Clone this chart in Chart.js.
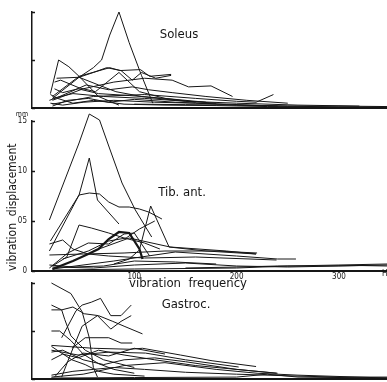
<!DOCTYPE html>
<html>
<head>
<meta charset="utf-8">
<script src="https://cdn.jsdelivr.net/npm/chart.js@4/dist/chart.umd.min.js"></script>
<style>
  body { margin: 0; background: #fff; }
  #wrap { position: relative; width: 387px; height: 382px; overflow: hidden; background: #fff; }
  .panel { position: absolute; left: 0; width: 387px; }
</style>
</head>
<body>
<div id="wrap">
  <div class="panel" style="top:0;height:112px"><canvas id="soleus"></canvas></div>
  <div class="panel" style="top:110px;height:182px"><canvas id="tib"></canvas></div>
  <div class="panel" style="top:270px;height:112px"><canvas id="gastroc"></canvas></div>
</div>
<script>
// vibration frequency (Hz) of each curve, one list per curve
const soleusFreq = [
  [20, 46, 60, 68, 76, 85, 95, 107, 118],
  [18, 26, 36, 46, 65, 85],
  [46, 60, 73, 87, 98, 107, 121, 136],
  [20, 50, 80, 110, 137, 153, 175, 196],
  [20, 60, 110, 160, 200, 219, 236],
  [20, 46, 76, 86, 106, 115, 136],
  [22, 28, 46, 62, 85, 105, 130, 160],
  [24, 46, 65, 82, 107, 140, 180],
  [17, 25, 53, 75, 98, 114, 137, 170, 210, 250],
  [18, 30, 50, 80, 120, 160, 200, 250, 300, 347],
  [18, 25, 40, 60, 90, 130, 180, 230, 280, 347],
  [20, 35, 55, 75, 100, 140, 190, 240],
  [20, 40, 70, 110, 150, 200, 260, 320],
  [22, 30, 45, 65, 95, 130, 170],
  [100, 150, 200, 250, 300, 347]
];
// vibration displacement (mm)
const soleusDisp = [
  [0.10, 0.32, 0.42, 0.50, 0.76, 1.00, 0.68, 0.34, 0.05],
  [0.15, 0.50, 0.43, 0.33, 0.12, 0.03],
  [0.32, 0.37, 0.42, 0.39, 0.29, 0.37, 0.31, 0.34],
  [0.08, 0.20, 0.27, 0.31, 0.29, 0.22, 0.23, 0.12],
  [0.04, 0.12, 0.14, 0.10, 0.07, 0.06, 0.14],
  [0.12, 0.33, 0.42, 0.39, 0.40, 0.33, 0.35],
  [0.27, 0.29, 0.21, 0.17, 0.37, 0.17, 0.10, 0.06],
  [0.31, 0.32, 0.24, 0.17, 0.12, 0.08, 0.05],
  [0.08, 0.11, 0.24, 0.19, 0.22, 0.19, 0.16, 0.12, 0.08, 0.05],
  [0.05, 0.03, 0.06, 0.08, 0.06, 0.05, 0.03, 0.02, 0.01, 0.01],
  [0.14, 0.10, 0.05, 0.08, 0.04, 0.03, 0.025, 0.015, 0.01, 0.005],
  [0.02, 0.08, 0.10, 0.06, 0.09, 0.06, 0.04, 0.02],
  [0.10, 0.15, 0.12, 0.10, 0.07, 0.05, 0.03, 0.02],
  [0.20, 0.16, 0.20, 0.15, 0.13, 0.10, 0.06],
  [0.04, 0.035, 0.03, 0.02, 0.02, 0.015]
];

const tibFreq = [
  [17, 46, 56, 66, 75, 88, 101, 117],
  [17, 46, 56, 64, 85],
  [18, 46, 56, 66, 75, 85, 95, 105, 114, 127],
  [80, 95, 105, 116, 134, 170, 219],
  [20, 34, 46, 58, 75, 90, 110, 125],
  [20, 40, 55, 65, 75, 85, 95, 105, 108],
  [30, 55, 75, 92, 105, 120],
  [60, 95, 135, 190, 219],
  [20, 80, 140, 200, 240, 258],
  [17, 30, 40, 55, 75, 110, 160, 239],
  [17, 50, 90, 130, 180, 220],
  [20, 100, 200, 250, 300, 347],
  [20, 60, 100, 150, 200, 250, 300, 347],
  [17, 40, 70, 100, 140, 180],
  [17, 35, 55, 75, 90, 100, 115],
  [150, 200, 240, 280, 320, 347]
];
const tibDisp = [
  [0.51, 1.28, 1.57, 1.51, 1.25, 0.88, 0.61, 0.34],
  [0.20, 0.76, 1.13, 0.71, 0.47],
  [0.30, 0.76, 0.78, 0.77, 0.69, 0.64, 0.64, 0.62, 0.59, 0.52],
  [0.07, 0.12, 0.21, 0.65, 0.24, 0.20, 0.17],
  [0.05, 0.14, 0.46, 0.43, 0.38, 0.33, 0.28, 0.22],
  [0.02, 0.10, 0.17, 0.22, 0.32, 0.39, 0.38, 0.22, 0.12],
  [0.12, 0.20, 0.30, 0.33, 0.42, 0.50],
  [0.20, 0.33, 0.24, 0.20, 0.17],
  [0.02, 0.10, 0.19, 0.15, 0.12, 0.12],
  [0.27, 0.31, 0.22, 0.17, 0.15, 0.13, 0.14, 0.11],
  [0.16, 0.17, 0.18, 0.20, 0.20, 0.18],
  [0.01, 0.02, 0.03, 0.05, 0.06, 0.07],
  [0.04, 0.03, 0.06, 0.08, 0.05, 0.04, 0.05, 0.06],
  [0.06, 0.04, 0.05, 0.10, 0.09, 0.07],
  [0.03, 0.18, 0.28, 0.27, 0.37, 0.38, 0.15],
  [0.03, 0.04, 0.05, 0.05, 0.055, 0.05]
];

const gasFreq = [
  [19, 38, 49, 56, 60, 64],
  [19, 29, 32, 38, 52, 70, 100],
  [29, 43, 49, 58, 67, 77, 87, 97],
  [19, 29, 40, 51, 65, 79, 90, 108],
  [19, 27, 38, 50, 65, 80, 100],
  [29, 37, 49, 64, 77, 87, 97],
  [39, 52, 75, 87, 98],
  [19, 60, 95, 108, 145, 176, 219],
  [19, 45, 75, 111, 150, 202],
  [19, 30, 45, 65, 90, 120, 160, 240],
  [19, 40, 60, 80, 110, 150, 200, 260, 300, 347],
  [19, 50, 90, 130, 180, 220, 260, 347],
  [22, 35, 50, 75, 100, 130],
  [19, 30, 50, 70, 90, 120, 150, 200, 239],
  [19, 100, 200, 230, 260, 347],
  [19, 26, 39, 52, 65, 80, 110]
];
const gasDisp = [
  [1.00, 0.89, 0.70, 0.43, 0.12, 0.02],
  [0.77, 0.72, 0.62, 0.45, 0.30, 0.20, 0.12],
  [0.43, 0.71, 0.77, 0.80, 0.84, 0.66, 0.66, 0.77],
  [0.72, 0.72, 0.75, 0.68, 0.66, 0.60, 0.55, 0.47],
  [0.50, 0.50, 0.40, 0.26, 0.16, 0.10, 0.06],
  [0.02, 0.24, 0.55, 0.66, 0.52, 0.60, 0.66],
  [0.32, 0.43, 0.43, 0.375, 0.375],
  [0.35, 0.32, 0.31, 0.32, 0.25, 0.19, 0.13],
  [0.30, 0.25, 0.28, 0.27, 0.20, 0.125],
  [0.20, 0.26, 0.22, 0.30, 0.25, 0.20, 0.14, 0.06],
  [0.04, 0.08, 0.10, 0.12, 0.10, 0.07, 0.05, 0.03, 0.02, 0.02],
  [0.02, 0.05, 0.14, 0.17, 0.10, 0.06, 0.04, 0.01],
  [0.02, 0.18, 0.27, 0.24, 0.32, 0.26],
  [0.28, 0.30, 0.20, 0.15, 0.20, 0.22, 0.18, 0.10, 0.06],
  [0.01, 0.015, 0.02, 0.05, 0.02, 0.01],
  [0.34, 0.29, 0.20, 0.15, 0.08, 0.05, 0.03]
];

const xTicks = [100, 200, 300];
const tibTicks = [0, 0.5, 1.0, 1.5];
const tibTickLabels = ['0', '05', '10', '15'];
const halfTicks = [0, 0.5, 1.0];

const ink = '#161616';
const condensed = "'DejaVu Sans Condensed', 'Liberation Sans Narrow', 'DejaVu Sans', sans-serif";

// small text drawn on top of each panel, coordinates are page coordinates
const notesPlugin = {
  id: 'notes',
  afterDraw(chart, args, opts) {
    const ctx = chart.ctx;
    const a = chart.chartArea;
    const y = chart.scales.y;
    ctx.save();
    // inward tick marks on the displacement axis
    ctx.strokeStyle = ink;
    ctx.lineWidth = 1.5;
    (opts.marks || []).forEach(v => {
      const py = Math.round(y.getPixelForValue(v)) + 0.5;
      ctx.beginPath();
      ctx.moveTo(a.left, py);
      ctx.lineTo(a.left + 3, py);
      ctx.stroke();
    });
    ctx.fillStyle = ink;
    ctx.textBaseline = 'middle';
    (opts.items || []).forEach(n => {
      ctx.font = n.size + 'px ' + condensed;
      ctx.textAlign = n.align || 'center';
      ctx.fillText(n.text, n.x, n.y - opts.top);
    });
    ctx.restore();
  }
};

function makePanel(id, freqs, disps, cfg) {
  const datasets = freqs.map((f, i) => ({
    data: f.map((x, j) => ({ x: x, y: disps[i][j] })),
    borderColor: ink,
    borderWidth: i === cfg.bold ? 2.2 : 1,
    pointRadius: 0,
    tension: 0,
    fill: false,
    clip: false
  }));
  return new Chart(document.getElementById(id), {
    type: 'line',
    data: { datasets: datasets },
    plugins: [notesPlugin],
    options: {
      responsive: true,
      maintainAspectRatio: false,
      animation: false,
      events: [],
      layout: { padding: { top: cfg.padTop, left: 0, right: 0, bottom: 0 } },
      plugins: {
        legend: { display: false },
        tooltip: { enabled: false },
        notes: { top: cfg.top, items: cfg.items, marks: cfg.yTicks }
      },
      scales: {
        x: {
          type: 'linear',
          min: 0,
          max: 347,
          afterFit: s => { s.height = cfg.xAxisH; },
          afterBuildTicks: s => { s.ticks = xTicks.map(v => ({ value: v })); },
          ticks: {
            display: cfg.showX,
            color: ink,
            padding: 1,
            maxRotation: 0,
            autoSkip: false,
            font: { size: 8, family: condensed }
          },
          grid: { display: false, drawTicks: false },
          border: { display: true, color: ink, width: 2 }
        },
        y: {
          type: 'linear',
          min: 0,
          max: cfg.yMax,
          afterFit: s => { s.width = 32; },
          afterBuildTicks: s => { s.ticks = cfg.yTicks.map(v => ({ value: v })); },
          ticks: {
            display: !!cfg.yLabels,
            color: ink,
            padding: 5,
            autoSkip: false,
            font: { size: 8, family: condensed },
            callback: (v, i) => cfg.yLabels ? cfg.yLabels[i] : ''
          },
          grid: { display: false, drawTicks: false },
          border: { display: true, color: ink, width: 1.5 },
          title: {
            display: !!cfg.yTitle,
            text: cfg.yTitle || '',
            align: 'start',
            color: ink,
            padding: { top: 6, bottom: 0 },
            font: { size: 12, family: condensed }
          }
        }
      }
    }
  });
}

makePanel('soleus', soleusFreq, soleusDisp, {
  top: 0, padTop: 12, xAxisH: 4, yMax: 1.0, yTicks: halfTicks, showX: false,
  items: [{ text: 'Soleus', x: 179, y: 35, size: 13 }]
});

makePanel('tib', tibFreq, tibDisp, {
  top: 110, padTop: 11, xAxisH: 21, yMax: 1.5, yTicks: tibTicks, yLabels: tibTickLabels,
  showX: true, bold: 5, yTitle: 'vibration  displacement',
  items: [
    { text: 'Tib. ant.', x: 182, y: 193, size: 13 },
    { text: 'vibration  frequency', x: 188, y: 284, size: 13 },
    { text: 'mm', x: 22, y: 114, size: 7 },
    { text: 'Hz', x: 382, y: 274, size: 8, align: 'left' }
  ]
});

makePanel('gastroc', gasFreq, gasDisp, {
  top: 270, padTop: 13, xAxisH: 3, yMax: 1.0, yTicks: halfTicks, showX: false,
  items: [{ text: 'Gastroc.', x: 186, y: 305, size: 13 }]
});
</script>
</body>
</html>
